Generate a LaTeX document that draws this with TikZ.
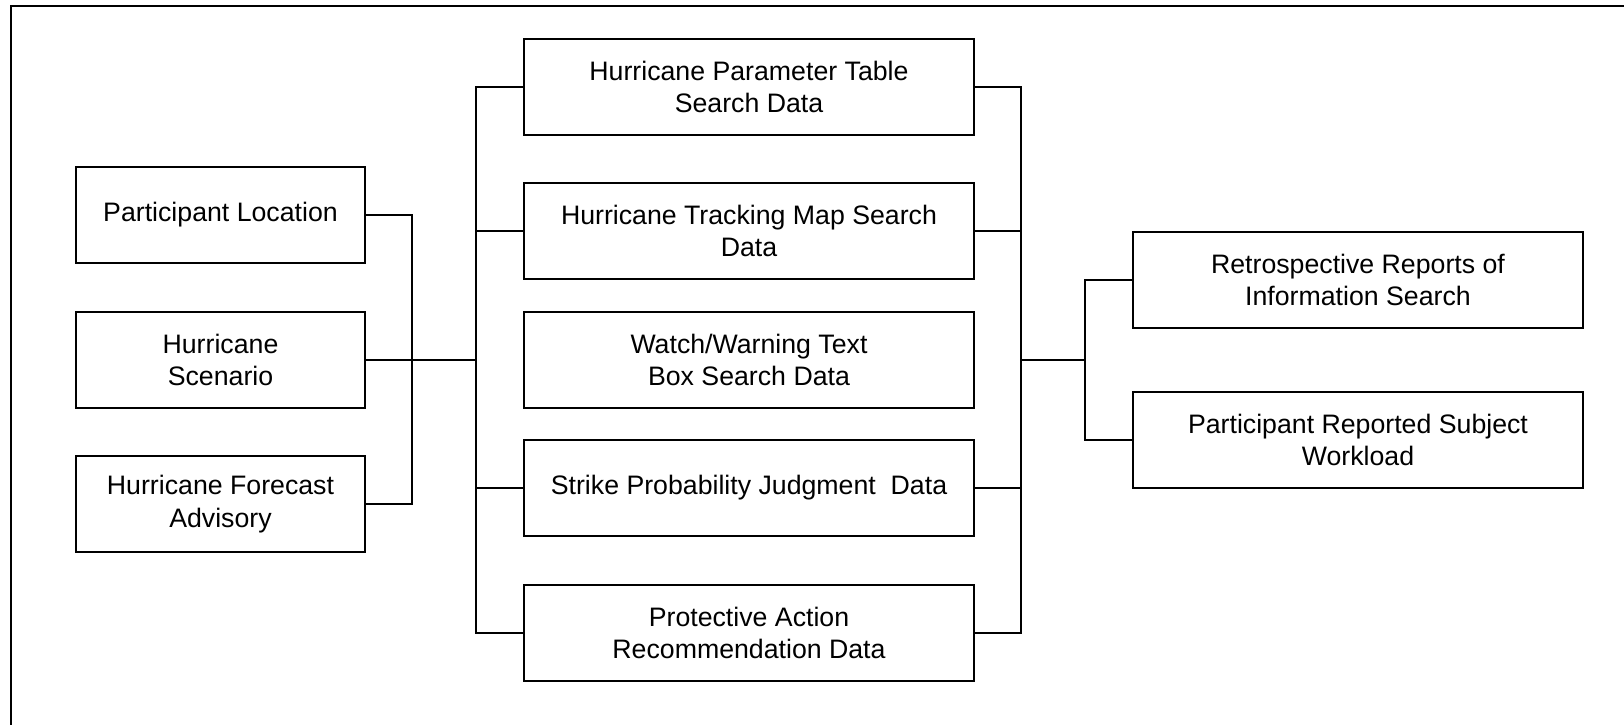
\documentclass[tikz,border=0pt]{standalone}
\usepackage{fontspec}
\setmainfont{Liberation Sans}
\usepackage{tikz}
\usetikzlibrary{positioning, calc}

\begin{document}
\begin{tikzpicture}[
      x=0.02cm, y=-0.02cm,
      every node/.style={font=\fontsize{15.2}{18.4}\selectfont},
      srcbox/.style={draw, line width=1.2pt, minimum width=#1*0.02cm,
                     minimum height=1.92cm, align=center, inner sep=2pt},
      link/.style={line width=1.1pt},
    ]
    \useasboundingbox (0,0) rectangle (1624,725);
    \draw[line width=1.3pt] (1624,6) -- (11,6) -- (11,725);

    % inputs
    \node[srcbox=289] (loc)  at (220.5,215) {Participant Location};
    \node[srcbox=289] (scen) at (220.5,360) {Hurricane\\Scenario};
    \node[srcbox=289] (fcst) at (220.5,504) {Hurricane Forecast\\Advisory};

    % collected data
    \node[srcbox=450] (ptab)  at (749,87)  {Hurricane Parameter Table\\Search Data};
    \node[srcbox=450] (tmap)  at (749,231) {Hurricane Tracking Map Search\\Data};
    \node[srcbox=450] (wwtxt) at (749,360) {Watch/Warning Text\\Box Search Data};
    \node[srcbox=450] (spj)   at (749,488) {Strike Probability Judgment\ \ Data};
    \node[srcbox=450] (pard)  at (749,633) {Protective Action\\Recommendation Data};

    % reports
    \node[srcbox=450] (retro) at (1358,280) {Retrospective Reports of\\Information Search};
    \node[srcbox=450] (wload) at (1358,440) {Participant Reported Subject\\Workload};

    \coordinate (lj) at (412,360);
    \coordinate (mj) at (476,360);
    \coordinate (rj) at (1021,360);
    \coordinate (rk) at (1085,360);

    \draw[link] (loc.east) -| (lj) |- (fcst.east);
    \draw[link] (scen.east) -- (mj);
    \draw[link] (ptab.west) -| (mj) |- (pard.west);
    \draw[link] (tmap.west) -- (tmap.west -| mj);
    \draw[link] (spj.west) -- (spj.west -| mj);
    \draw[link] (ptab.east) -| (rj) |- (pard.east);
    \draw[link] (tmap.east) -- (tmap.east -| rj);
    \draw[link] (spj.east) -- (spj.east -| rj);
    \draw[link] (rj) -- (rk);
    \draw[link] (retro.west) -| (rk) |- (wload.west);
  \end{tikzpicture}
\end{document}
